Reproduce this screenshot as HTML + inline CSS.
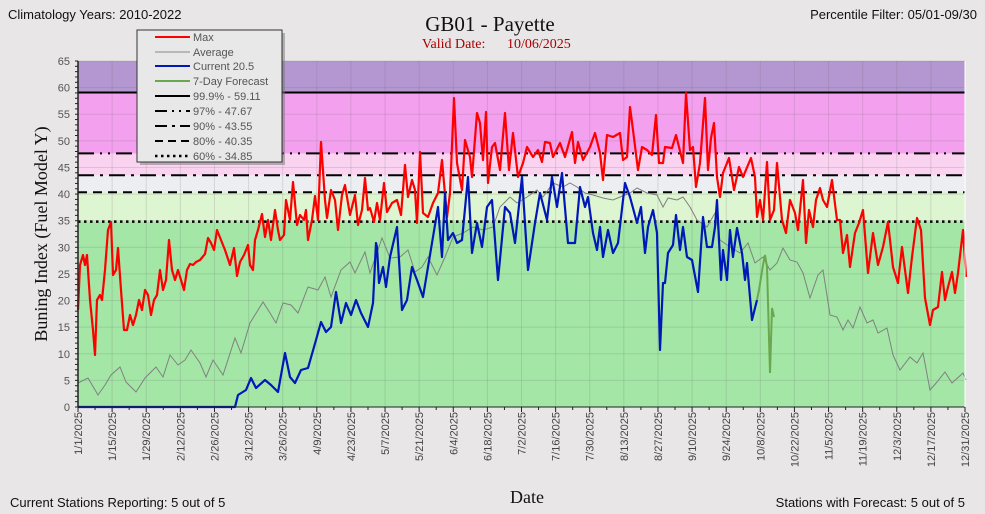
<!DOCTYPE html>
<html><head><meta charset="utf-8"><style>
body{margin:0;background:#e8e6e6;}
svg{display:block;font-family:"Liberation Sans",sans-serif;}
</style></head><body>
<svg id="s" width="985" height="514" xmlns="http://www.w3.org/2000/svg">
<rect width="985" height="514" fill="#e8e6e6"/>
<g id="bands">
<rect x="78" y="61" width="887" height="31.5" fill="#b497d1"/>
<rect x="78" y="92.5" width="887" height="61" fill="#f3a0ee"/>
<rect x="78" y="153.4" width="887" height="22" fill="#f9d3ef"/>
<rect x="78" y="175.3" width="887" height="17" fill="#eceef2"/>
<rect x="78" y="192.3" width="887" height="29.3" fill="#ddf5d0"/>
<rect x="78" y="221.6" width="887" height="185.4" fill="#a3e6a6"/>
</g>
<g id="grid"></g>
<g fill="none" stroke="#000">
<line x1="78" x2="965" y1="92.5" y2="92.5" stroke-width="2"/>
<line x1="78" x2="965" y1="153.4" y2="153.4" stroke-width="2" stroke-dasharray="16,6,2,6,2,6"/>
<line x1="78" x2="965" y1="175.3" y2="175.3" stroke-width="2" stroke-dasharray="16,6,3,6"/>
<line x1="78" x2="965" y1="192.3" y2="192.3" stroke-width="2" stroke-dasharray="9,6"/>
<line x1="78" x2="965" y1="221.6" y2="221.6" stroke-width="2.5" stroke-dasharray="2.5,3.5"/>
</g>
<polyline fill="none" stroke="#808080" stroke-width="1" points="78,383 88,378 98,395 105,385 111,375 120,367 126,382 136,392 145,378 156,367 163,377 170,355 178,365 185,360 191,350 200,363 206,377 213,360 223,375 235,338 241,353 250,323 263,302 270,313 276,323 283,303 291,305 298,313 308,287 318,290 325,277 331,297 341,270 350,262 355,273 365,252 370,273 382,238 390,258 400,257 408,250 415,272 422,267 428,257 437,275 445,257 453,237 463,233 473,227 483,230 493,227 500,207 510,197 517,203 527,197 537,190 543,197 553,183 563,187 570,183 577,187 585,193 593,195 603,198 613,200 620,197 630,193 637,188 647,193 657,195 663,207 668,198 677,200 683,197 690,207 697,220 707,227 715,213 720,240 730,247 740,253 748,243 755,263 763,257 770,270 777,263 783,248 790,260 797,262 803,273 810,298 818,275 823,270 830,315 837,317 843,330 848,320 853,328 860,307 867,323 873,320 878,333 887,328 893,355 900,370 910,357 917,363 923,353 930,390 937,382 945,372 952,383 963,373 966,380"/>
<polyline fill="none" stroke="#f00" stroke-width="2.2" stroke-linejoin="round" points="78,310 80,265 83,255 85,265 87,255 90,300 93,330 95,355 97,300 100,295 102,300 105,270 108,230 111,222 113,275 116,270 118,248 121,290 124,330 127,330 130,315 133,325 136,315 139,300 142,310 145,290 148,295 151,315 154,300 157,295 160,270 163,290 166,280 169,240 172,270 175,280 178,270 181,280 184,290 187,270 190,264 193,265 196,262 200,260 205,254 208,238 211,243 214,250 217,230 221,240 225,250 230,265 234,248 237,276 240,262 244,255 248,245 250,265 253,270 255,240 258,230 262,214 265,237 268,220 271,240 275,210 278,230 280,240 284,235 286,200 290,220 293,182 297,225 300,215 304,220 306,210 308,240 312,220 315,196 318,220 321,142 325,200 327,218 331,190 335,200 338,230 342,195 345,185 350,215 355,195 358,225 362,210 365,178 368,210 370,208 374,222 377,203 380,220 384,183 387,212 392,203 397,200 401,215 405,165 408,197 412,180 415,190 417,223 420,152 423,213 428,217 433,203 438,193 442,160 447,217 450,193 454,98 457,163 462,190 465,140 470,157 472,177 477,113 480,123 483,160 486,112 488,183 492,147 495,143 500,170 505,113 509,170 513,133 518,177 523,163 527,147 533,157 538,150 542,162 545,142 550,143 553,157 560,143 565,157 572,132 575,163 578,142 583,160 590,147 595,133 600,153 603,180 607,135 613,137 620,133 623,160 627,157 630,107 633,130 638,170 642,147 647,150 652,155 656,115 659,163 663,163 665,147 672,148 676,135 679,147 683,163 686,93 690,150 693,147 696,187 700,163 705,98 708,170 711,138 714,123 717,177 720,197 723,173 729,158 734,190 739,167 743,177 751,158 755,177 757,217 760,200 763,220 767,162 770,220 774,210 777,163 782,220 786,233 790,200 795,213 798,230 803,180 806,243 809,210 813,227 816,200 820,188 823,200 827,207 832,180 837,220 840,220 843,253 847,235 850,267 855,233 859,223 863,210 868,273 873,233 878,265 883,247 888,222 893,267 898,283 902,247 908,293 912,257 917,218 921,230 925,298 930,325 933,310 938,307 942,272 945,300 948,287 952,272 955,293 958,273 963,230 966,277"/>
<polyline fill="none" stroke="#0018b8" stroke-width="2.2" stroke-linejoin="round" points="78,407 235,407 238,395 246,390 251,378 256,388 265,380 271,385 278,392 285,353 290,377 295,383 301,370 308,368 316,340 321,322 326,332 331,327 336,292 341,323 346,303 351,315 356,300 361,313 368,327 373,303 376,243 377,247 379,283 383,267 386,287 390,257 397,227 402,310 407,300 412,267 417,280 423,297 432,243 438,207 442,257 445,193 448,240 453,233 457,243 462,240 468,177 472,253 477,223 482,247 487,207 492,200 498,280 505,207 510,213 515,243 522,177 528,270 535,223 540,193 547,220 552,177 557,207 562,173 568,243 575,243 580,187 585,207 588,197 593,233 597,250 600,227 603,257 608,230 613,253 618,243 625,183 630,197 637,223 641,207 645,253 648,227 653,210 657,233 660,350 663,283 665,283 668,253 673,245 676,215 680,250 683,227 687,257 692,260 698,292 703,217 707,247 712,247 715,227 717,200 721,280 723,250 727,280 730,230 733,257 737,228 742,253 745,280 747,263 752,320 757,300"/>
<polyline fill="none" stroke="#6aa84f" stroke-width="2" points="757,300 759,290 763,265 765,255 767,267 770,373 772,308 774,317"/>
<g id="axes"></g>
<text x="8" y="19" font-size="13" fill="#111">Climatology Years: 2010-2022</text>
<text x="977" y="19" font-size="13" fill="#111" text-anchor="end">Percentile Filter:  05/01-09/30</text>
<text x="490" y="31" font-size="21" font-family="Liberation Serif,serif" text-anchor="middle" fill="#111">GB01 - Payette</text>
<text x="422" y="48" font-size="14" font-family="Liberation Serif,serif" fill="#a00">Valid Date:</text>
<text x="507" y="48" font-size="14" font-family="Liberation Serif,serif" fill="#a00">10/06/2025</text>
<text transform="translate(47,234) rotate(-90)" font-size="18" font-family="Liberation Serif,serif" text-anchor="middle" fill="#111">Buning Index  (Fuel Model Y)</text>
<text x="527" y="503" font-size="18" font-family="Liberation Serif,serif" text-anchor="middle" fill="#111">Date</text>
<text x="10" y="507" font-size="13" fill="#111">Current Stations Reporting: 5 out of 5</text>
<text x="965" y="507" font-size="13" fill="#111" text-anchor="end">Stations with Forecast: 5 out of 5</text>
<g>
<rect x="140" y="33" width="145" height="132" fill="#777" opacity="0.5"/>
<rect x="137" y="30" width="145" height="132" fill="#e8e8e8" stroke="#333" stroke-width="1"/>
<g font-size="11" fill="#555">
<line x1="155" x2="190" y1="37" y2="37" stroke="#f00" stroke-width="2"/><text x="193" y="41">Max</text>
<line x1="155" x2="190" y1="52" y2="52" stroke="#888" stroke-width="1"/><text x="193" y="56">Average</text>
<line x1="155" x2="190" y1="66" y2="66" stroke="#0018b8" stroke-width="2"/><text x="193" y="70">Current 20.5</text>
<line x1="155" x2="190" y1="81" y2="81" stroke="#6aa84f" stroke-width="2"/><text x="193" y="85">7-Day Forecast</text>
<line x1="155" x2="190" y1="96" y2="96" stroke="#000" stroke-width="2"/><text x="193" y="100">99.9%  -  59.11</text>
<line x1="155" x2="190" y1="111" y2="111" stroke="#000" stroke-width="2" stroke-dasharray="12,5,2,5,2,5"/><text x="193" y="115">97%  -  47.67</text>
<line x1="155" x2="190" y1="126" y2="126" stroke="#000" stroke-width="2" stroke-dasharray="12,5,3,5"/><text x="193" y="130">90%  -  43.55</text>
<line x1="155" x2="190" y1="141" y2="141" stroke="#000" stroke-width="2" stroke-dasharray="8,5"/><text x="193" y="145">80%  -  40.35</text>
<line x1="155" x2="190" y1="156" y2="156" stroke="#000" stroke-width="2.5" stroke-dasharray="2.5,3.5"/><text x="193" y="160">60%  - 34.85</text>
</g></g>
</svg>
<script>
(function(){
var NS="http://www.w3.org/2000/svg",g=document.getElementById('grid'),a=document.getElementById('axes');
function el(p,t,at,txt){var e=document.createElementNS(NS,t);for(var k in at)e.setAttribute(k,at[k]);if(txt!=null)e.textContent=txt;p.appendChild(e);return e;}
var x0=78,x1=965,y0=407,py=(407-61)/65,px=(x1-x0)/364;
for(var v=0;v<=65;v+=5){var y=y0-v*py;if(v>0)el(g,'line',{x1:x0,x2:x1,y1:y,y2:y,stroke:'rgba(100,100,100,0.18)','stroke-width':1});
el(a,'text',{x:70,y:y+4,'font-size':11,fill:'#555','text-anchor':'end'},v);}
for(var v=0;v<=65;v++){var y=y0-v*py;el(a,'line',{x1:x0-3,x2:x0,y1:y,y2:y,stroke:'#222','stroke-width':1});}
var mon=[31,28,31,30,31,30,31,31,30,31,30,31];
function lbl(d){var m=0;while(d>=mon[m]){d-=mon[m];m++;}return (m+1)+'/'+(d+1)+'/2025';}
for(var d=0;d<=364;d+=7){var x=x0+d*px;var maj=d%14==0;
if(maj&&d>0&&d<364)el(g,'line',{x1:x,x2:x,y1:61,y2:y0,stroke:'rgba(100,100,100,0.18)','stroke-width':1});
el(a,'line',{x1:x,x2:x,y1:y0,y2:y0+(maj?5:3),stroke:'#222','stroke-width':1});
if(maj)el(a,'text',{transform:'translate('+(x+4)+',412) rotate(-90)','font-size':11,fill:'#444','text-anchor':'end'},lbl(d));}
el(a,'line',{x1:x0,x2:x0,y1:61,y2:y0,stroke:'#222','stroke-width':1.5});
el(a,'line',{x1:x0,x2:x1,y1:y0,y2:y0,stroke:'#222','stroke-width':1});
el(a,'line',{x1:x1,x2:x1,y1:61,y2:y0,stroke:'#fff','stroke-width':1});
})();
</script>
</body></html>
